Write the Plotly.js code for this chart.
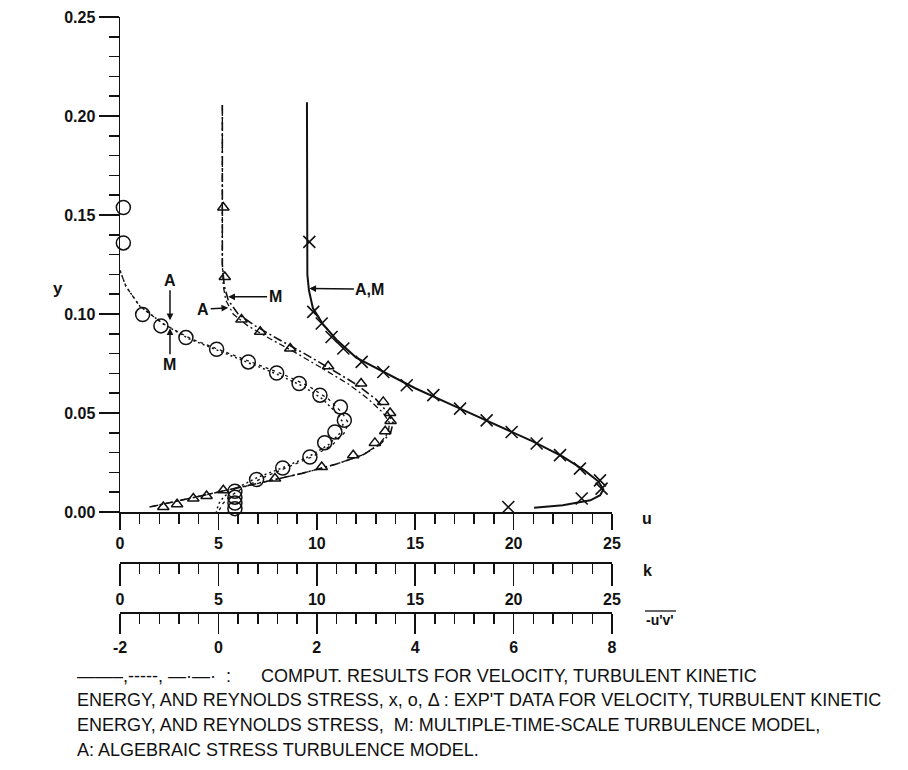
<!DOCTYPE html>
<html><head><meta charset="utf-8">
<script src="https://cdn.plot.ly/plotly-3.0.1.min.js"></script>
<style>html,body{margin:0;padding:0;background:#fff}</style>
</head><body><div id="chart" style="width:908px;height:770px"></div>
<script>
// ---- velocity u (x markers = experiment, solid = computation)
const velExpU = [9.62, 9.82, 10.25, 10.75, 11.35, 12.28, 13.38, 14.57, 15.92, 17.28, 18.63, 19.90, 21.17, 22.36, 23.37, 24.39, 24.47, 23.46, 19.73];
const velExpY = [0.1364, 0.1011, 0.0952, 0.0884, 0.0826, 0.0758, 0.0707, 0.0640, 0.0590, 0.0522, 0.0463, 0.0404, 0.0346, 0.0287, 0.0219, 0.0160, 0.0118, 0.0068, 0.0025];
const velCompU = [9.5, 9.5, 9.52, 9.6, 9.8, 10.3, 11.0, 12.0, 13.4, 15.0, 17.0, 19.0, 21.0, 22.5, 23.6, 24.3, 24.56, 24.4, 23.9, 22.5, 21.04];
const velCompY = [0.207, 0.13, 0.12, 0.112, 0.103, 0.095, 0.087, 0.078, 0.0707, 0.0625, 0.0535, 0.0447, 0.0355, 0.028, 0.021, 0.0155, 0.0115, 0.0085, 0.0059, 0.0034, 0.0022];

// ---- turbulent kinetic energy k (circles = experiment, dashed = computation A / M)
const kExpK = [0.17, 0.17, 1.15, 2.08, 3.35, 4.91, 6.52, 7.96, 9.10, 10.16, 11.2, 11.4, 10.92, 10.4, 9.65, 8.27, 6.94, 5.84, 5.84, 5.84, 5.84];
const kExpY = [0.1538, 0.1359, 0.0997, 0.0940, 0.0881, 0.0822, 0.0758, 0.0702, 0.0649, 0.0590, 0.0530, 0.0463, 0.0404, 0.0350, 0.0278, 0.0222, 0.0164, 0.0105, 0.0075, 0.0045, 0.0017];
const kCompY  = [0.122, 0.114, 0.104, 0.095, 0.0875, 0.0815, 0.0755, 0.0695, 0.0635, 0.057, 0.050, 0.045, 0.040, 0.034, 0.028, 0.0225, 0.0175, 0.0125, 0.008, 0.004, 0.0];
const kCompM  = [0, 0.3, 1.0, 2.2, 3.5, 5.0, 6.5, 8.0, 9.3, 10.3, 11.0, 11.35, 11.2, 10.6, 9.6, 8.3, 7.0, 6.0, 5.3, 5.0, 4.9];
const kCompA  = [0, 0.3, 1.0, 2.2, 3.6, 5.2, 6.8, 8.3, 9.6, 10.6, 11.3, 11.6, 11.4, 10.8, 9.8, 8.5, 7.3, 6.3, 5.6, 5.2, 5.0];

// ---- Reynolds stress -u'v' (triangles = experiment, dash-dot = computation A / M)
const rsExpV = [0.10, 0.13, 0.47, 0.85, 1.46, 2.23, 2.90, 3.35, 3.49, 3.50, 3.39, 3.18, 2.74, 2.10, 1.15, 0.10, -0.24, -0.51, -0.84, -1.12];
const rsExpY = [0.1538, 0.1187, 0.0972, 0.0910, 0.0826, 0.0736, 0.0649, 0.0556, 0.0500, 0.0460, 0.0408, 0.0349, 0.0287, 0.0227, 0.0169, 0.0110, 0.0081, 0.0068, 0.0039, 0.0025];
const rsCompY = [0.2055, 0.125, 0.114, 0.107, 0.100, 0.094, 0.0875, 0.080, 0.072, 0.0645, 0.057, 0.050, 0.045, 0.040, 0.0345, 0.029, 0.0242, 0.0195, 0.015, 0.0108, 0.0068, 0.0025];
const rsCompA = [0.08, 0.08, 0.12, 0.2, 0.4, 0.75, 1.2, 1.75, 2.3, 2.8, 3.2, 3.45, 3.55, 3.5, 3.3, 2.95, 2.4, 1.7, 0.9, 0.1, -0.6, -1.4];
const rsCompM = [0.08, 0.08, 0.1, 0.15, 0.3, 0.6, 1.05, 1.6, 2.15, 2.65, 3.05, 3.35, 3.48, 3.45, 3.28, 2.95, 2.4, 1.7, 0.9, 0.1, -0.6, -1.4];

// ---- axis tick labels
const uTicks = [0, 5, 10, 15, 20, 25];
const kTicks = [0, 5, 10, 15, 20, 25];
const rsTicks = [-2, 0, 2, 4, 6, 8];
const yTicks = [0, 0.05, 0.10, 0.15, 0.20, 0.25];

const NB = '\u00A0';
const captionLines = [
  "——–,-----," + NB + "—·—·" + NB + NB + ":" + NB.repeat(6) + "COMPUT. RESULTS FOR VELOCITY, TURBULENT KINETIC",
  "ENERGY, AND REYNOLDS STRESS, x, o, Δ : EXP'T DATA FOR VELOCITY, TURBULENT KINETIC",
  "ENERGY, AND REYNOLDS STRESS," + NB + NB + "M: MULTIPLE-TIME-SCALE TURBULENCE MODEL,",
  "A: ALGEBRAIC STRESS TURBULENCE MODEL."
];

const FONT = '"Liberation Sans", Arial, Helvetica, sans-serif';
const INK = '#111';

const traces = [
  {x: velCompU, y: velCompY, mode: 'lines', line: {color: INK, width: 2}, xaxis: 'x', yaxis: 'y', cliponaxis: false},
  {x: velExpU, y: velExpY, mode: 'markers', marker: {symbol: 'x-thin-open', size: 12, color: INK, line: {color: INK, width: 1.6}}, xaxis: 'x', yaxis: 'y', cliponaxis: false},
  {x: kCompM, y: kCompY, mode: 'lines', line: {color: INK, width: 1.5, dash: '2px,3px'}, xaxis: 'x2', yaxis: 'y', cliponaxis: false},
  {x: kCompA, y: kCompY, mode: 'lines', line: {color: INK, width: 1.3, dash: '3px,4px'}, xaxis: 'x2', yaxis: 'y', cliponaxis: false},
  {x: kExpK, y: kExpY, mode: 'markers', marker: {symbol: 'circle-open', size: 14, color: INK, line: {color: INK, width: 1.5}}, xaxis: 'x2', yaxis: 'y', cliponaxis: false},
  {x: rsCompA, y: rsCompY, mode: 'lines', line: {color: INK, width: 1.6, dash: '9px,3px,2px,3px'}, xaxis: 'x3', yaxis: 'y', cliponaxis: false},
  {x: rsCompM, y: rsCompY, mode: 'lines', line: {color: INK, width: 1.3, dash: '6px,3px,2px,3px'}, xaxis: 'x3', yaxis: 'y', cliponaxis: false},
  {x: rsExpV, y: rsExpY, mode: 'markers', marker: {symbol: 'triangle-up-open', size: 10, color: INK, line: {color: INK, width: 1.5}}, xaxis: 'x3', yaxis: 'y', cliponaxis: false}
];

const tickFont = {family: FONT, size: 16, color: INK, weight: 'bold'};
function xAxis(range, vals, dtickMinor, major, extra) {
  return Object.assign({
    range: range, tickmode: 'array', tickvals: vals, ticktext: vals.map(String),
    showline: true, linecolor: INK, linewidth: 1.5, ticks: 'outside', ticklen: major,
    tickwidth: 1.5, tickcolor: INK, showgrid: false, zeroline: false, tickfont: tickFont,
    fixedrange: true,
    minor: {tickmode: 'linear', tick0: range[0], dtick: dtickMinor, ticks: 'outside', ticklen: 10, tickwidth: 1.5, tickcolor: INK, showgrid: false}
  }, extra);
}

const P = (px) => (px - 120) / 492;   // helpers for paper positions of page text
const Q = (py) => (612 - py) / 595;

const annotations = [
  {xref: 'x', yref: 'y', axref: 'x', ayref: 'y', x: 2.54, y: 0.0969, ax: 2.54, ay: 0.117, text: 'A'},
  {xref: 'x', yref: 'y', axref: 'x', ayref: 'y', x: 2.54, y: 0.0928, ax: 2.54, ay: 0.0746, text: 'M'},
  {xref: 'x', yref: 'y', axref: 'x', ayref: 'y', x: 5.5, y: 0.1031, ax: 4.23, ay: 0.1024, text: 'A'},
  {xref: 'x', yref: 'y', axref: 'x', ayref: 'y', x: 5.5, y: 0.1087, ax: 7.88, ay: 0.1087, text: 'M'},
  {xref: 'x', yref: 'y', axref: 'x', ayref: 'y', x: 9.62, y: 0.1129, ax: 12.7, ay: 0.1125, text: 'A,M'}
].map(a => Object.assign({showarrow: true, arrowhead: 2, arrowsize: 0.9, arrowwidth: 1.5, arrowcolor: INK,
  font: {family: FONT, size: 16, color: INK, weight: 'bold'}}, a));

const lab = (px, py, text, size) => ({xref: 'paper', yref: 'paper', x: P(px), y: Q(py), xanchor: 'center', yanchor: 'middle',
  text: text, showarrow: false, font: {family: FONT, size: size, color: INK, weight: 'bold'}});
annotations.push(
  lab(647, 518, 'u', 16),
  lab(647, 570, 'k', 16),
  lab(660, 620, "-u'v'", 14),
  lab(58, 288, 'y', 17)
);
const capY = [676, 700, 725, 750];
captionLines.forEach((t, i) => annotations.push({
  xref: 'paper', yref: 'paper', x: P(75), y: Q(capY[i]), xanchor: 'left', yanchor: 'middle',
  text: t, showarrow: false, font: {family: FONT, size: 18, color: INK}
}));

const layout = {
  width: 908, height: 770,
  margin: {l: 120, r: 296, t: 17, b: 158, pad: 0},
  paper_bgcolor: '#fff', plot_bgcolor: '#fff', showlegend: false,
  xaxis: xAxis([0, 25], uTicks, 1, 16, {anchor: 'y', domain: [0, 1]}),
  xaxis2: xAxis([0, 25], kTicks, 1, 22, {overlaying: 'x', anchor: 'free', position: (612 - 562) / 595, side: 'bottom'}),
  xaxis3: xAxis([-2, 8], rsTicks, 0.4, 20, {overlaying: 'x', anchor: 'free', position: 0, side: 'bottom'}),
  yaxis: {
    range: [0, 0.25], domain: [(612 - 512) / 595, 1], tickmode: 'array', tickvals: yTicks,
    ticktext: yTicks.map(v => v.toFixed(2)), showline: true, linecolor: INK, linewidth: 1.5,
    ticks: 'outside', ticklen: 20, tickwidth: 1.5, tickcolor: INK, showgrid: false, zeroline: false,
    tickfont: tickFont, fixedrange: true,
    minor: {tickmode: 'linear', tick0: 0, dtick: 0.01, ticks: 'outside', ticklen: 10, tickwidth: 1.5, tickcolor: INK, showgrid: false}
  },
  shapes: [
    {type: 'line', xref: 'paper', yref: 'paper', x0: P(645), x1: P(676), y0: Q(611), y1: Q(611), line: {color: INK, width: 1.3}}
  ],
  annotations: annotations
};

Plotly.newPlot('chart', traces, layout, {displayModeBar: false, staticPlot: true});
</script>
</body></html>
